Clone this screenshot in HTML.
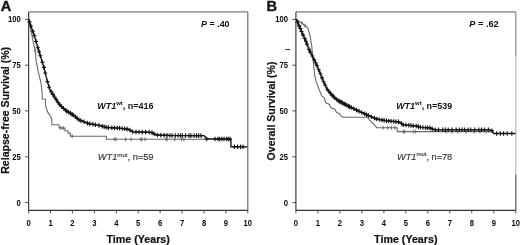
<!DOCTYPE html>
<html><head><meta charset="utf-8"><title>Survival</title>
<style>html,body{margin:0;padding:0;background:#fff;width:520px;height:245px;overflow:hidden}</style></head>
<body>
<svg width="520" height="245" viewBox="0 0 520 245" style="display:block">
<rect width="520" height="245" fill="#fff"/>
<path d="M28.6,11.9H247.8" stroke="#7c7c7c" stroke-width="1.2" fill="none"/>
<path d="M247.8,11.9V210.4" stroke="#6c6c6c" stroke-width="1.2" fill="none"/>
<path d="M28.6,11.9V210.4" stroke="#444" stroke-width="1.25" fill="none"/>
<path d="M28.6,210.4H247.8" stroke="#333" stroke-width="1.25" fill="none"/>
<path d="M25.1,19.4H28.6M25.1,65.2H28.6M25.1,110.9H28.6M25.1,156.8H28.6M25.1,202.6H28.6M28.6,210.4V213.4M50.5,210.4V213.4M72.4,210.4V213.4M94.4,210.4V213.4M116.3,210.4V213.4M138.2,210.4V213.4M160.1,210.4V213.4M182.0,210.4V213.4M204.0,210.4V213.4M225.9,210.4V213.4M247.8,210.4V213.4" stroke="#4a4a4a" stroke-width="1" fill="none"/>
<text transform="translate(20.8,22.30) scale(0.92,1)" text-anchor="end" font-family="Liberation Sans, Arial, sans-serif" font-weight="bold" font-size="8.3" fill="#0a0a0a">100</text>
<text transform="translate(20.8,68.10) scale(0.92,1)" text-anchor="end" font-family="Liberation Sans, Arial, sans-serif" font-weight="bold" font-size="8.3" fill="#0a0a0a">75</text>
<text transform="translate(20.8,113.80) scale(0.92,1)" text-anchor="end" font-family="Liberation Sans, Arial, sans-serif" font-weight="bold" font-size="8.3" fill="#0a0a0a">50</text>
<text transform="translate(20.8,159.70) scale(0.92,1)" text-anchor="end" font-family="Liberation Sans, Arial, sans-serif" font-weight="bold" font-size="8.3" fill="#0a0a0a">25</text>
<text transform="translate(20.8,205.50) scale(0.92,1)" text-anchor="end" font-family="Liberation Sans, Arial, sans-serif" font-weight="bold" font-size="8.3" fill="#0a0a0a">0</text>
<text transform="translate(28.6,225.8) scale(0.92,1)" text-anchor="middle" font-family="Liberation Sans, Arial, sans-serif" font-weight="bold" font-size="8.3" fill="#0a0a0a">0</text>
<text transform="translate(50.5,225.8) scale(0.92,1)" text-anchor="middle" font-family="Liberation Sans, Arial, sans-serif" font-weight="bold" font-size="8.3" fill="#0a0a0a">1</text>
<text transform="translate(72.4,225.8) scale(0.92,1)" text-anchor="middle" font-family="Liberation Sans, Arial, sans-serif" font-weight="bold" font-size="8.3" fill="#0a0a0a">2</text>
<text transform="translate(94.4,225.8) scale(0.92,1)" text-anchor="middle" font-family="Liberation Sans, Arial, sans-serif" font-weight="bold" font-size="8.3" fill="#0a0a0a">3</text>
<text transform="translate(116.3,225.8) scale(0.92,1)" text-anchor="middle" font-family="Liberation Sans, Arial, sans-serif" font-weight="bold" font-size="8.3" fill="#0a0a0a">4</text>
<text transform="translate(138.2,225.8) scale(0.92,1)" text-anchor="middle" font-family="Liberation Sans, Arial, sans-serif" font-weight="bold" font-size="8.3" fill="#0a0a0a">5</text>
<text transform="translate(160.1,225.8) scale(0.92,1)" text-anchor="middle" font-family="Liberation Sans, Arial, sans-serif" font-weight="bold" font-size="8.3" fill="#0a0a0a">6</text>
<text transform="translate(182.0,225.8) scale(0.92,1)" text-anchor="middle" font-family="Liberation Sans, Arial, sans-serif" font-weight="bold" font-size="8.3" fill="#0a0a0a">7</text>
<text transform="translate(204.0,225.8) scale(0.92,1)" text-anchor="middle" font-family="Liberation Sans, Arial, sans-serif" font-weight="bold" font-size="8.3" fill="#0a0a0a">8</text>
<text transform="translate(225.9,225.8) scale(0.92,1)" text-anchor="middle" font-family="Liberation Sans, Arial, sans-serif" font-weight="bold" font-size="8.3" fill="#0a0a0a">9</text>
<text transform="translate(247.8,225.8) scale(0.92,1)" text-anchor="middle" font-family="Liberation Sans, Arial, sans-serif" font-weight="bold" font-size="8.3" fill="#0a0a0a">10</text>
<text x="138.2" y="242.6" text-anchor="middle" font-family="Liberation Sans, Arial, sans-serif" font-weight="bold" font-size="10.7" fill="#111" stroke="#111" stroke-width="0.2">Time (Years)</text>
<text transform="translate(9.0,173.8) rotate(-90)" textLength="126.9" lengthAdjust="spacingAndGlyphs" font-family="Liberation Sans, Arial, sans-serif" font-weight="bold" font-size="10.5" fill="#111" stroke="#111" stroke-width="0.2">Relapse-free Survival (%)</text>
<text x="0.7" y="10.6" font-family="Liberation Sans, Arial, sans-serif" font-weight="bold" font-size="14.6" fill="#111" stroke="#111" stroke-width="0.35">A</text>
<text x="201" y="27.2" textLength="28.6" lengthAdjust="spacingAndGlyphs" font-family="Liberation Sans, Arial, sans-serif" font-weight="bold" font-size="9.5" fill="#111"><tspan font-style="italic">P</tspan> = .40</text>
<path d="M28.6,19.3 L32.6,39.0 L35.4,51.6 L36.0,60.0 L38.3,72.2 L40.8,82.0 L42.1,91.8 L42.3,99.0 L45.4,99.2 L45.7,106.8 L47.9,112.4 L50.1,115.8 L51.7,118.2 L51.9,124.8 L59.1,124.8 L59.1,128.0 L64.9,128.0 L64.9,130.8 L68.0,130.8 L68.0,133.1 L70.3,133.1 L70.3,136.2 L106.5,136.2 L106.5,139.3 L206.0,139.3" stroke="#6a6a6a" stroke-width="1.1" fill="none" stroke-linejoin="miter"/>
<path d="M35.2,48.7V52.7M34.1,50.7H36.3M60.8,126.0V130.0M59.7,128.0H61.9M63.2,126.0V130.0M62.1,128.0H64.3M72.1,134.2V138.2M71.0,136.2H73.2M114.3,137.3V141.3M113.2,139.3H115.4M116.0,137.3V141.3M114.9,139.3H117.1M125.7,137.3V141.3M124.6,139.3H126.8M131.1,137.3V141.3M130.0,139.3H132.2M140.7,137.3V141.3M139.6,139.3H141.8M141.9,137.3V141.3M140.8,139.3H143.0M145.0,137.3V141.3M143.9,139.3H146.1M166.0,137.3V141.3M164.9,139.3H167.1M167.2,137.3V141.3M166.1,139.3H168.3M174.7,137.3V141.3M173.6,139.3H175.8M181.6,137.3V141.3M180.5,139.3H182.7M183.9,137.3V141.3M182.8,139.3H185.0" stroke="#666" stroke-width="0.9" fill="none"/>
<path d="M28.6,19.3 L34.7,36.9 L38.3,49.1 L43.2,65.0 L44.5,69.8 L46.9,79.6 L49.8,89.4 L54.3,96.7 L59.1,104.0 L65.3,110.2 L72.6,114.5 L79.0,119.8 L88.9,123.7 L100.0,125.6 L107.1,127.5 L118.6,128.1 L128.6,129.3 L132.9,131.8 L151.4,132.3 L156.4,135.0 L170.0,135.5 L204.1,135.6 L206.7,139.0 L230.9,139.0 L230.9,146.8 L247.5,146.8" stroke="#111" stroke-width="1.35" fill="none"/>
<path d="M29.5,19.6V24.2M27.5,21.9H31.5M30.9,23.7V28.3M28.9,26.0H32.9M32.7,28.8V33.4M30.7,31.1H34.7M34.3,33.3V37.9M32.3,35.6H36.3M36.1,39.2V43.8M34.1,41.5H38.1M37.9,45.4V50.0M35.9,47.7H39.9M39.1,49.5V54.1M37.1,51.8H41.1M40.4,53.5V58.1M38.4,55.8H42.4M42.4,60.1V64.7M40.4,62.4H44.4M43.9,65.1V69.7M41.9,67.4H45.9M45.3,70.7V75.3M43.3,73.0H47.3M47.5,79.3V83.9M45.5,81.6H49.5M49.2,84.9V89.5M47.2,87.2H51.2M51.2,89.4V94.0M49.2,91.7H53.2M52.9,92.1V96.7M50.9,94.4H54.9M54.7,95.0V99.6M52.7,97.3H56.7M56.1,97.1V101.7M54.1,99.4H58.1M57.9,99.9V104.5M55.9,102.2H59.9M60.0,102.6V107.2M58.0,104.9H62.0M61.7,104.3V108.9M59.7,106.6H63.7M63.6,106.2V110.8M61.6,108.5H65.6M65.5,108.0V112.6M63.5,110.3H67.5M66.8,108.8V113.4M64.8,111.1H68.8M68.7,109.9V114.5M66.7,112.2H70.7M70.5,111.0V115.6M68.5,113.3H72.5M72.0,111.9V116.5M70.0,114.2H74.0M73.2,112.7V117.3M71.2,115.0H75.2M75.3,114.4V119.0M73.3,116.7H77.3M77.0,115.8V120.4M75.0,118.1H79.0M78.9,117.4V122.0M76.9,119.7H80.9M81.0,118.3V122.9M79.0,120.6H83.0M84.0,119.5V124.1M82.0,121.8H86.0M87.4,120.8V125.4M85.4,123.1H89.4M89.8,121.6V126.2M87.8,123.9H91.8M93.0,122.1V126.7M91.0,124.4H95.0M95.5,122.5V127.1M93.5,124.8H97.5M98.9,123.1V127.7M96.9,125.4H100.9M102.2,123.9V128.5M100.2,126.2H104.2M104.2,124.4V129.0M102.2,126.7H106.2M106.2,125.0V129.6M104.2,127.3H108.2M108.4,125.3V129.9M106.4,127.6H110.4M111.8,125.4V130.0M109.8,127.7H113.8M114.4,125.6V130.2M112.4,127.9H116.4M117.2,125.7V130.3M115.2,128.0H119.2M119.6,125.9V130.5M117.6,128.2H121.6M122.2,126.2V130.8M120.2,128.5H124.2M124.7,126.5V131.1M122.7,128.8H126.7M127.1,126.8V131.4M125.1,129.1H129.1M129.9,127.7V132.3M127.9,130.0H131.9M132.7,129.4V134.0M130.7,131.7H134.7M136.0,129.6V134.2M134.0,131.9H138.0M139.0,129.7V134.3M137.0,132.0H141.0M142.3,129.8V134.4M140.3,132.1H144.3M145.6,129.8V134.4M143.6,132.1H147.6M149.1,129.9V134.5M147.1,132.2H151.1M152.0,130.3V134.9M150.0,132.6H154.0M154.1,131.5V136.1M152.1,133.8H156.1M157.4,132.7V137.3M155.4,135.0H159.4M160.8,132.9V137.5M158.8,135.2H162.8M164.1,133.0V137.6M162.1,135.3H166.1M166.9,133.1V137.7M164.9,135.4H168.9M169.9,133.2V137.8M167.9,135.5H171.9M172.1,133.2V137.8M170.1,135.5H174.1M175.3,133.2V137.8M173.3,135.5H177.3M178.1,133.2V137.8M176.1,135.5H180.1M180.4,133.2V137.8M178.4,135.5H182.4M182.3,133.2V137.8M180.3,135.5H184.3M185.5,133.2V137.8M183.5,135.5H187.5M189.0,133.3V137.9M187.0,135.6H191.0M190.9,133.3V137.9M188.9,135.6H192.9M194.1,133.3V137.9M192.1,135.6H196.1M196.6,133.3V137.9M194.6,135.6H198.6M198.7,133.3V137.9M196.7,135.6H200.7M201.0,133.3V137.9M199.0,135.6H203.0M206.7,136.7V141.3M204.7,139.0H208.7M215.0,136.7V141.3M213.0,139.0H217.0M218.0,136.7V141.3M216.0,139.0H220.0M219.7,136.7V141.3M217.7,139.0H221.7M221.9,136.7V141.3M219.9,139.0H223.9M224.0,136.7V141.3M222.0,139.0H226.0M226.6,136.7V141.3M224.6,139.0H228.6M228.3,136.7V141.3M226.3,139.0H230.3M230.0,136.7V141.3M228.0,139.0H232.0M234.4,144.5V149.1M232.4,146.8H236.4M237.5,144.5V149.1M235.5,146.8H239.5M240.5,144.5V149.1M238.5,146.8H242.5M243.0,144.5V149.1M241.0,146.8H245.0" stroke="#111" stroke-width="1.1" fill="none"/>
<text x="97.2" y="108.6" textLength="56.3" lengthAdjust="spacingAndGlyphs" font-family="Liberation Sans, Arial, sans-serif" font-weight="bold" font-size="9.4" fill="#111"><tspan font-style="italic">WT1</tspan><tspan font-size="6.2" dy="-3.3">wt</tspan><tspan dy="3.3">, n=416</tspan></text>
<text x="97.8" y="160.1" textLength="55.7" lengthAdjust="spacingAndGlyphs" font-family="Liberation Sans, Arial, sans-serif" font-size="9.4" fill="#333" stroke="#333" stroke-width="0.15"><tspan font-style="italic">WT1</tspan><tspan font-size="6.2" dy="-3.3">mut</tspan><tspan dy="3.3">, n=59</tspan></text>
<path d="M295.9,11.9H515.8" stroke="#7c7c7c" stroke-width="1.2" fill="none"/>
<path d="M515.8,11.9V56" stroke="#888" stroke-width="1.2" fill="none"/>
<path d="M515.8,56V174.5" stroke="#b8b8b8" stroke-width="1.2" fill="none"/>
<path d="M515.8,174.5V210.4" stroke="#555" stroke-width="1.2" fill="none"/>
<path d="M295.9,11.9V210.4" stroke="#444" stroke-width="1.25" fill="none"/>
<path d="M295.9,210.4H515.8" stroke="#333" stroke-width="1.25" fill="none"/>
<path d="M292.4,19.4H295.9M292.4,65.2H295.9M292.4,110.9H295.9M292.4,156.8H295.9M292.4,202.6H295.9M295.9,210.4V213.4M317.9,210.4V213.4M339.9,210.4V213.4M361.9,210.4V213.4M383.9,210.4V213.4M405.8,210.4V213.4M427.8,210.4V213.4M449.8,210.4V213.4M471.8,210.4V213.4M493.8,210.4V213.4M515.8,210.4V213.4" stroke="#4a4a4a" stroke-width="1" fill="none"/>
<text transform="translate(288.1,22.30) scale(0.92,1)" text-anchor="end" font-family="Liberation Sans, Arial, sans-serif" font-weight="bold" font-size="8.3" fill="#0a0a0a">100</text>
<text transform="translate(288.1,68.10) scale(0.92,1)" text-anchor="end" font-family="Liberation Sans, Arial, sans-serif" font-weight="bold" font-size="8.3" fill="#0a0a0a">75</text>
<text transform="translate(288.1,113.80) scale(0.92,1)" text-anchor="end" font-family="Liberation Sans, Arial, sans-serif" font-weight="bold" font-size="8.3" fill="#0a0a0a">50</text>
<text transform="translate(288.1,159.70) scale(0.92,1)" text-anchor="end" font-family="Liberation Sans, Arial, sans-serif" font-weight="bold" font-size="8.3" fill="#0a0a0a">25</text>
<text transform="translate(288.1,205.50) scale(0.92,1)" text-anchor="end" font-family="Liberation Sans, Arial, sans-serif" font-weight="bold" font-size="8.3" fill="#0a0a0a">0</text>
<text transform="translate(295.9,225.8) scale(0.92,1)" text-anchor="middle" font-family="Liberation Sans, Arial, sans-serif" font-weight="bold" font-size="8.3" fill="#0a0a0a">0</text>
<text transform="translate(317.9,225.8) scale(0.92,1)" text-anchor="middle" font-family="Liberation Sans, Arial, sans-serif" font-weight="bold" font-size="8.3" fill="#0a0a0a">1</text>
<text transform="translate(339.9,225.8) scale(0.92,1)" text-anchor="middle" font-family="Liberation Sans, Arial, sans-serif" font-weight="bold" font-size="8.3" fill="#0a0a0a">2</text>
<text transform="translate(361.9,225.8) scale(0.92,1)" text-anchor="middle" font-family="Liberation Sans, Arial, sans-serif" font-weight="bold" font-size="8.3" fill="#0a0a0a">3</text>
<text transform="translate(383.9,225.8) scale(0.92,1)" text-anchor="middle" font-family="Liberation Sans, Arial, sans-serif" font-weight="bold" font-size="8.3" fill="#0a0a0a">4</text>
<text transform="translate(405.8,225.8) scale(0.92,1)" text-anchor="middle" font-family="Liberation Sans, Arial, sans-serif" font-weight="bold" font-size="8.3" fill="#0a0a0a">5</text>
<text transform="translate(427.8,225.8) scale(0.92,1)" text-anchor="middle" font-family="Liberation Sans, Arial, sans-serif" font-weight="bold" font-size="8.3" fill="#0a0a0a">6</text>
<text transform="translate(449.8,225.8) scale(0.92,1)" text-anchor="middle" font-family="Liberation Sans, Arial, sans-serif" font-weight="bold" font-size="8.3" fill="#0a0a0a">7</text>
<text transform="translate(471.8,225.8) scale(0.92,1)" text-anchor="middle" font-family="Liberation Sans, Arial, sans-serif" font-weight="bold" font-size="8.3" fill="#0a0a0a">8</text>
<text transform="translate(493.8,225.8) scale(0.92,1)" text-anchor="middle" font-family="Liberation Sans, Arial, sans-serif" font-weight="bold" font-size="8.3" fill="#0a0a0a">9</text>
<text transform="translate(515.8,225.8) scale(0.92,1)" text-anchor="middle" font-family="Liberation Sans, Arial, sans-serif" font-weight="bold" font-size="8.3" fill="#0a0a0a">10</text>
<text x="405.8" y="242.6" text-anchor="middle" font-family="Liberation Sans, Arial, sans-serif" font-weight="bold" font-size="10.7" fill="#111" stroke="#111" stroke-width="0.2">Time (Years)</text>
<text transform="translate(274.9,160.4) rotate(-90)" textLength="98.9" lengthAdjust="spacingAndGlyphs" font-family="Liberation Sans, Arial, sans-serif" font-weight="bold" font-size="10.5" fill="#111" stroke="#111" stroke-width="0.2">Overall Survival (%)</text>
<text x="266.6" y="10.6" font-family="Liberation Sans, Arial, sans-serif" font-weight="bold" font-size="14.6" fill="#111" stroke="#111" stroke-width="0.35">B</text>
<text x="469.3" y="27.2" textLength="29.4" lengthAdjust="spacingAndGlyphs" font-family="Liberation Sans, Arial, sans-serif" font-weight="bold" font-size="9.5" fill="#111"><tspan font-style="italic">P</tspan> = .62</text>
<path d="M296.3,19.3 L301.2,22.6 L304.2,25.0 L307.9,28.1 L309.1,32.3 L310.3,37.2 L311.6,45.0 L312.9,58.3 L313.8,65.7 L314.6,75.0 L316.4,82.3 L319.2,89.7 L321.9,96.1 L324.3,97.9 L325.6,102.5 L329.3,104.4 L331.1,108.0 L334.8,108.9 L336.6,112.6 L339.4,113.5 L341.2,116.3 L343.5,117.3 L367.5,117.3 L369.4,119.8 L372.1,122.5 L374.9,125.3 L376.7,127.7 L397.2,127.7 L397.2,131.6 L493.0,131.6" stroke="#6a6a6a" stroke-width="1.1" fill="none" stroke-linejoin="miter"/>
<path d="M302.0,21.2V25.2M300.9,23.2H303.1M305.0,23.7V27.7M303.9,25.7H306.1M383.1,125.7V129.7M382.0,127.7H384.2M387.7,125.7V129.7M386.6,127.7H388.8M391.4,125.7V129.7M390.3,127.7H392.5M395.0,125.7V129.7M393.9,127.7H396.1M403.3,129.6V133.6M402.2,131.6H404.4M404.7,129.6V133.6M403.6,131.6H405.8M413.3,129.6V133.6M412.2,131.6H414.4M415.6,129.6V133.6M414.5,131.6H416.7M446.0,129.6V133.6M444.9,131.6H447.1M452.0,129.6V133.6M450.9,131.6H453.1M458.0,129.6V133.6M456.9,131.6H459.1M466.0,129.6V133.6M464.9,131.6H467.1M474.0,129.6V133.6M472.9,131.6H475.1M480.0,129.6V133.6M478.9,131.6H481.1M486.0,129.6V133.6M484.9,131.6H487.1" stroke="#666" stroke-width="0.9" fill="none"/>
<path d="M296.3,19.3 L303.5,36.0 L305.6,40.5 L309.0,49.5 L313.4,58.3 L317.1,65.7 L320.8,74.9 L323.8,82.3 L327.4,89.7 L332.0,95.2 L337.5,100.2 L346.7,105.2 L355.9,109.8 L365.0,114.0 L370.0,116.2 L376.7,119.0 L385.9,120.7 L399.1,122.0 L403.3,124.8 L417.0,126.1 L420.7,127.4 L429.9,127.9 L434.4,129.8 L491.4,129.8 L493.8,133.5 L515.5,133.5" stroke="#111" stroke-width="1.35" fill="none"/>
<path d="M297.5,19.8V24.4M295.5,22.1H299.5M299.1,23.6V28.2M297.1,25.9H301.1M300.3,26.2V30.8M298.3,28.5H302.3M301.5,29.2V33.8M299.5,31.5H303.5M303.0,32.6V37.2M301.0,34.9H305.0M304.7,36.2V40.8M302.7,38.5H306.7M305.9,39.0V43.6M303.9,41.3H307.9M307.0,42.0V46.6M305.0,44.3H309.0M308.9,47.0V51.6M306.9,49.3H310.9M310.3,49.8V54.4M308.3,52.1H312.3M312.3,53.7V58.3M310.3,56.0H314.3M314.2,57.5V62.1M312.2,59.8H316.2M315.6,60.4V65.0M313.6,62.7H317.6M317.1,63.5V68.1M315.1,65.8H319.1M318.7,67.4V72.0M316.7,69.7H320.7M320.4,71.5V76.1M318.4,73.8H322.4M322.0,75.6V80.2M320.0,77.9H324.0M323.6,79.5V84.1M321.6,81.8H325.6M325.3,83.0V87.6M323.3,85.3H327.3M327.2,87.0V91.6M325.2,89.3H329.2M328.8,89.0V93.6M326.8,91.3H330.8M330.3,90.8V95.4M328.3,93.1H332.3M332.0,92.9V97.5M330.0,95.2H334.0M333.3,94.1V98.7M331.3,96.4H335.3M334.7,95.4V100.0M332.7,97.7H336.7M336.7,97.2V101.8M334.7,99.5H338.7M338.2,98.3V102.9M336.2,100.6H340.2M339.8,99.2V103.8M337.8,101.5H341.8M341.0,99.8V104.4M339.0,102.1H343.0M342.4,100.6V105.2M340.4,102.9H344.4M344.0,101.5V106.1M342.0,103.8H346.0M345.2,102.1V106.7M343.2,104.4H347.2M346.8,103.0V107.6M344.8,105.3H348.8M348.5,103.8V108.4M346.5,106.1H350.5M349.6,104.4V109.0M347.6,106.7H351.6M351.3,105.2V109.8M349.3,107.5H353.3M353.8,106.5V111.1M351.8,108.8H355.8M356.6,107.8V112.4M354.6,110.1H358.6M359.0,108.9V113.5M357.0,111.2H361.0M361.8,110.2V114.8M359.8,112.5H363.8M364.7,111.6V116.2M362.7,113.9H366.7M366.6,112.4V117.0M364.6,114.7H368.6M368.4,113.2V117.8M366.4,115.5H370.4M371.3,114.4V119.0M369.3,116.7H373.3M374.5,115.8V120.4M372.5,118.1H376.5M376.7,116.7V121.3M374.7,119.0H378.7M379.2,117.2V121.8M377.2,119.5H381.2M381.9,117.7V122.3M379.9,120.0H383.9M384.1,118.1V122.7M382.1,120.4H386.1M386.5,118.5V123.1M384.5,120.8H388.5M388.7,118.7V123.3M386.7,121.0H390.7M391.1,118.9V123.5M389.1,121.2H393.1M393.8,119.2V123.8M391.8,121.5H395.8M396.0,119.4V124.0M394.0,121.7H398.0M398.4,119.6V124.2M396.4,121.9H400.4M401.4,121.2V125.8M399.4,123.5H403.4M403.2,122.4V127.0M401.2,124.7H405.2M405.9,122.7V127.3M403.9,125.0H407.9M408.8,123.0V127.6M406.8,125.3H410.8M411.0,123.2V127.8M409.0,125.5H413.0M413.2,123.4V128.0M411.2,125.7H415.2M416.2,123.7V128.3M414.2,126.0H418.2M418.3,124.3V128.9M416.3,126.6H420.3M420.4,125.0V129.6M418.4,127.3H422.4M422.9,125.2V129.8M420.9,127.5H424.9M425.7,125.4V130.0M423.7,127.7H427.7M427.7,125.5V130.1M425.7,127.8H429.7M429.9,125.6V130.2M427.9,127.9H431.9M432.2,126.6V131.2M430.2,128.9H434.2M435.3,127.5V132.1M433.3,129.8H437.3M438.5,127.5V132.1M436.5,129.8H440.5M442.7,127.5V132.1M440.7,129.8H444.7M445.3,127.5V132.1M443.3,129.8H447.3M448.2,127.5V132.1M446.2,129.8H450.2M451.9,127.5V132.1M449.9,129.8H453.9M456.2,127.5V132.1M454.2,129.8H458.2M459.4,127.5V132.1M457.4,129.8H461.4M462.1,127.5V132.1M460.1,129.8H464.1M464.6,127.5V132.1M462.6,129.8H466.6M468.0,127.5V132.1M466.0,129.8H470.0M470.7,127.5V132.1M468.7,129.8H472.7M474.7,127.5V132.1M472.7,129.8H476.7M478.8,127.5V132.1M476.8,129.8H480.8M481.5,127.5V132.1M479.5,129.8H483.5M484.3,127.5V132.1M482.3,129.8H486.3M488.4,127.5V132.1M486.4,129.8H490.4M492.0,128.5V133.1M490.0,130.8H494.0M496.7,131.2V135.8M494.7,133.5H498.7M500.3,131.2V135.8M498.3,133.5H502.3M503.6,131.2V135.8M501.6,133.5H505.6M507.2,131.2V135.8M505.2,133.5H509.2M511.8,131.2V135.8M509.8,133.5H513.8" stroke="#111" stroke-width="1.1" fill="none"/>
<text x="396.2" y="108.5" textLength="56.0" lengthAdjust="spacingAndGlyphs" font-family="Liberation Sans, Arial, sans-serif" font-weight="bold" font-size="9.4" fill="#111"><tspan font-style="italic">WT1</tspan><tspan font-size="6.2" dy="-3.3">wt</tspan><tspan dy="3.3">, n=539</tspan></text>
<text x="397.1" y="159.6" textLength="55.1" lengthAdjust="spacingAndGlyphs" font-family="Liberation Sans, Arial, sans-serif" font-size="9.4" fill="#333" stroke="#333" stroke-width="0.15"><tspan font-style="italic">WT1</tspan><tspan font-size="6.2" dy="-3.3">mut</tspan><tspan dy="3.3">, n=78</tspan></text>
<path d="M285.3,49.5H290" stroke="#333" stroke-width="1" fill="none"/>
</svg>
</body></html>
